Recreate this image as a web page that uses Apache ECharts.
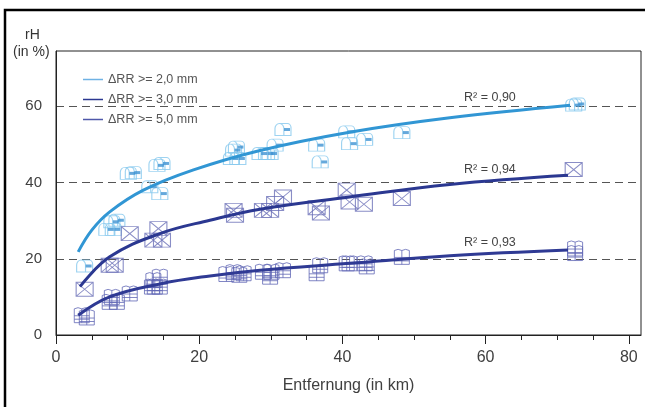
<!DOCTYPE html>
<html>
<head>
<meta charset="utf-8">
<script src="https://cdn.jsdelivr.net/npm/echarts@6/dist/echarts.min.js"></script>
<style>
html,body{margin:0;padding:0;background:#fff;}
#chart{width:645px;height:407px;}
</style>
</head>
<body>
<div id="chart"></div>
<script>
// ---- data ----
const seriesNames = ['\u0394RR >= 2,0 mm', '\u0394RR >= 3,0 mm', '\u0394RR >= 5,0 mm'];
const r2Labels = ['R\u00b2 = 0,90', 'R\u00b2 = 0,94', 'R\u00b2 = 0,93'];
const xTickLabels = [0, 20, 40, 60, 80];
const xMinorTicks = [0, 5, 10, 15, 20, 25, 30, 35, 40, 45, 50, 55, 60, 65, 70, 75, 80];
const yTickLabels = [0, 20, 40, 60];

const rr2Points = [[4.0,18.1],[7.1,27.7],[8.0,27.7],[7.8,29.7],[8.5,30.1],[10.1,42.4],[10.8,42.6],
  [13.1,38.9],[14.1,44.5],[14.8,45.0],[14.5,37.1],[24.5,46.3],[25.4,46.3],[24.8,48.5],[25.2,49.3],
  [28.5,47.6],[29.4,47.6],[29.9,47.6],[30.6,49.8],[31.7,53.9],[36.4,49.8],[36.9,45.4],[40.6,53.3],
  [41.0,50.2],[43.1,51.3],[48.3,53.1],[72.3,60.3],[72.8,60.6]];
const rr3Points = [[4.0,12.0],[7.5,18.3],[8.2,18.3],[10.3,26.6],[13.6,24.9],[14.3,27.9],[14.8,24.9],
  [24.8,32.7],[25.0,31.4],[28.9,32.7],[29.9,32.7],[30.6,34.5],[31.7,36.2],[36.4,33.4],[37.0,32.0],
  [40.6,38.0],[41.0,34.9],[43.0,34.3],[48.3,35.8],[72.3,43.4]];
const rr5Points = [[3.6,5.2],[4.3,4.6],[7.5,8.7],[8.5,8.7],[7.8,10.0],[10.3,10.9],[13.4,12.7],[13.8,12.7],
  [14.5,12.7],[13.6,14.4],[14.5,15.3],[23.8,16.0],[24.8,16.5],[25.6,15.8],[26.2,16.2],[28.9,16.6],
  [29.9,15.3],[30.1,16.6],[31.7,17.0],[36.4,16.2],[36.9,18.3],[40.6,18.8],[41.0,18.8],[43.1,18.8],
  [43.4,18.0],[48.3,20.5],[72.5,22.7],[72.5,21.5]];

const rr2Trend = [[3.1,21.8],[5,27.5],[7.5,32.3],[12.2,38.0],[19.2,43.3],[28.5,48.4],[41,53.2],[55,57.0],[71.8,60.3]];
const rr3Trend = [[3.35,12.7],[7.5,20.5],[14.5,26.6],[21.5,30.1],[28.5,33.0],[41,36.2],[55,39.5],[71.5,41.9]];
const rr5Trend = [[3.1,5.2],[7.5,10.0],[14.5,13.4],[21.5,15.5],[28.5,17.0],[41,18.8],[55,20.8],[71.5,22.3]];

// ---- symbols ----
const mailboxPath = 'path://M0,12V5A5,5,0,0,1,10,5V12Z M5,0H14A4,4,0,0,1,18,4V12H10';
const envelopePath = 'path://M0,0H16V13H0Z M0,0L16,13 M16,0L0,13';
const bookPath = 'path://M0,2Q3.5,0,7,2Q10.5,0,14,2V14H0Z M7,2V14 M0,8H14 M0,11H14';

const FONT = 'Liberation Sans, Arial, sans-serif';
const chart = echarts.init(document.getElementById('chart'));

function trendSeries(name, data, color, r2, coord) {
  return {
    name: name, type: 'line', data: data, smooth: 0.4, showSymbol: false, symbol: 'none',
    lineStyle: {color: color, width: 3}, itemStyle: {color: color}, z: 5,
    markPoint: {
      symbol: 'circle', symbolSize: 0, silent: true,
      data: [{coord: coord}],
      label: {show: true, position: 'inside', formatter: r2, color: '#444', fontSize: 12.5, fontFamily: FONT}
    }
  };
}

const option = {
  animation: false,
  grid: {left: 56, top: 51, right: 4, bottom: 72, show: true, borderColor: '#222', borderWidth: 1},
  legend: {
    data: seriesNames, orient: 'vertical', left: 78, top: 68, itemGap: 7,
    itemWidth: 20, itemHeight: 1.5, icon: 'rect',
    textStyle: {color: '#555', fontSize: 12.5, fontFamily: FONT}
  },
  xAxis: [{
    type: 'value', min: 0, max: 81.7,
    name: 'Entfernung (in km)', nameLocation: 'middle', nameGap: 43,
    nameTextStyle: {color: '#404040', fontSize: 16, fontFamily: FONT},
    axisLine: {show: true, lineStyle: {color: '#222', width: 1}},
    axisTick: {show: true, customValues: xMinorTicks, length: 5, lineStyle: {color: '#222'}},
    axisLabel: {customValues: xTickLabels, margin: 15, color: '#404040', fontSize: 16, fontFamily: FONT},
    splitLine: {show: false}
  }, {
    type: 'value', min: 0, max: 81.7, position: 'bottom',
    axisLine: {show: false},
    axisTick: {show: true, customValues: xTickLabels, length: 9, lineStyle: {color: '#222'}},
    axisLabel: {show: false},
    splitLine: {show: false}
  }],
  yAxis: {
    type: 'value', min: 0, max: 74.5, interval: 20,
    axisLine: {show: true, lineStyle: {color: '#222'}},
    axisTick: {show: false},
    axisLabel: {customValues: yTickLabels, margin: 14, color: '#404040', fontSize: 15, fontFamily: FONT},
    splitLine: {show: true, showMinLine: false, showMaxLine: false,
      lineStyle: {color: '#555', type: [8, 5], width: 1.2}}
  },
  graphic: [
    {type: 'rect', shape: {x: 5, y: 10, width: 700, height: 500}, style: {fill: 'none', stroke: '#000', lineWidth: 2.5}, silent: true},
    {type: 'text', left: 25, top: 28, style: {text: 'rH', fill: '#333', font: '14px ' + FONT}},
    {type: 'text', left: 13, top: 45, style: {text: '(in %)', fill: '#333', font: '14px ' + FONT}}
  ],
  series: [
    {type: 'scatter', data: rr2Points, symbol: mailboxPath, symbolSize: [16, 12], z: 2,
      itemStyle: {color: 'rgba(255,255,255,0)', borderColor: '#86c8ee', borderWidth: 1}},
    {type: 'scatter', data: rr2Points, symbol: 'rect', symbolSize: [6, 3], symbolOffset: [4, 0], z: 3,
      itemStyle: {color: '#3e92d2'}},
    {type: 'scatter', data: rr3Points, symbol: envelopePath, symbolSize: [17, 14], z: 2,
      itemStyle: {color: 'rgba(255,255,255,0)', borderColor: '#6b70b8', borderWidth: 1}},
    {type: 'scatter', data: rr5Points, symbol: bookPath, symbolSize: [15, 15], z: 2,
      itemStyle: {color: 'rgba(255,255,255,0)', borderColor: '#6268b5', borderWidth: 1}},
    trendSeries(seriesNames[0], rr2Trend, '#3196d4', r2Labels[0], [60.6, 62.3]),
    trendSeries(seriesNames[1], rr3Trend, '#2b3891', r2Labels[1], [60.6, 43.3]),
    trendSeries(seriesNames[2], rr5Trend, '#2f3a94', r2Labels[2], [60.6, 24.2])
  ]
};
// legend icon colours
option.series[4].itemStyle.color = '#6fb2e4';
option.series[6].itemStyle.color = '#4f58aa';
chart.setOption(option);
</script>
</body>
</html>
